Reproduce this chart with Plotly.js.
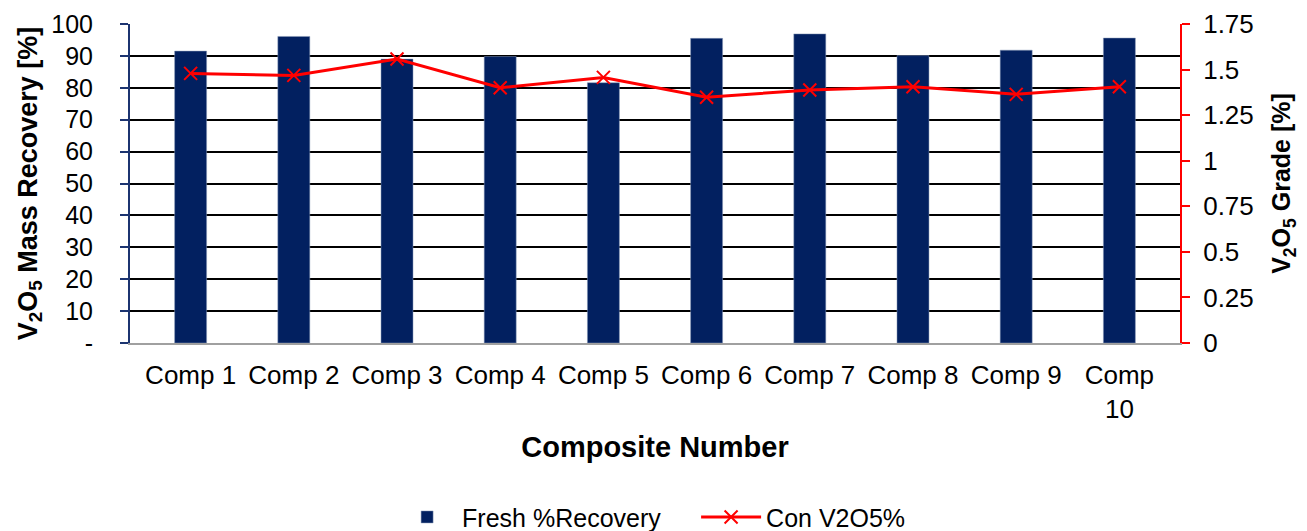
<!DOCTYPE html>
<html>
<head>
<meta charset="utf-8">
<script src="https://cdn.plot.ly/plotly-3.0.1.min.js"></script>
<style>html,body{margin:0;padding:0;background:#fff;}#chart{width:1307px;height:531px;}</style>
</head>
<body>
<div id="chart"></div>
<script>
var categories = ["Comp 1","Comp 2","Comp 3","Comp 4","Comp 5","Comp 6","Comp 7","Comp 8","Comp 9","Comp<br>10"];
var freshRecovery = [91.5, 96.1, 89.0, 89.8, 81.6, 95.5, 96.9, 90.1, 91.8, 95.6];
var conV2O5 = [1.479, 1.468, 1.558, 1.400, 1.457, 1.348, 1.388, 1.406, 1.364, 1.406];
var leftTickVals = [0,10,20,30,40,50,60,70,80,90,100];
var leftTickText = ["-","10","20","30","40","50","60","70","80","90","100"];
var rightTickVals = [0,0.25,0.5,0.75,1,1.25,1.5,1.75];
var rightTickText = ["0","0.25","0.5","0.75","1","1.25","1.5","1.75"];

var font = "Liberation Sans, Arial, sans-serif";
var traces = [
  {type:"bar", x:categories, y:freshRecovery, name:"Fresh %Recovery",
   marker:{color:"#022060", line:{color:"#8a9ab8", width:0.5}}},
  {type:"scatter", mode:"lines+markers", x:categories, y:conV2O5, yaxis:"y2", name:"Con V2O5%",
   line:{color:"#ff0000", width:3}, marker:{symbol:"x-thin", size:13, color:"#ff0000", line:{color:"#ff0000", width:2}}}
];
var layout = {
  width:1307, height:531,
  margin:{l:130, r:127, t:24, b:188},
  paper_bgcolor:"#fff", plot_bgcolor:"#fff",
  bargap:0.69,
  font:{family:font, size:25, color:"#000"},
  showlegend:true,
  legend:{orientation:"h", xref:"container", yref:"container", x:0.3, xanchor:"left", y:0.026, yanchor:"middle",
          font:{size:25}, traceorder:"normal", itemwidth:60, entrywidth:229, entrywidthmode:"pixels"},
  xaxis:{
    type:"category", automargin:false, showline:true, linecolor:"#a0a0a0", linewidth:2,
    showgrid:false, ticks:"", tickfont:{size:26, color:"#000"}, ticklabelstandoff:8,
    title:{text:"<b>Composite Number</b>", font:{size:29}, standoff:14}
  },
  yaxis:{
    automargin:false, range:[0,100], tickvals:leftTickVals, ticktext:leftTickText,
    showline:true, linecolor:"#1c3470", linewidth:2, ticks:"outside", ticklen:8, tickcolor:"#1c3470", tickwidth:2,
    showgrid:true, gridcolor:"#000", gridwidth:2, zeroline:false,
    tickfont:{size:25, color:"#000"}, ticklabelstandoff:22,
    title:{text:"<b>V<sub>2</sub>O<sub>5</sub> Mass Recovery [%]</b>", font:{size:27}, standoff:6}
  },
  yaxis2:{
    automargin:false, overlaying:"y", side:"right", range:[0,1.75], tickvals:rightTickVals, ticktext:rightTickText,
    showline:true, linecolor:"#ff0000", linewidth:2, ticks:"outside", ticklen:8, tickcolor:"#ff0000", tickwidth:2,
    showgrid:false, zeroline:false,
    tickfont:{size:26, color:"#000"}, ticklabelstandoff:8,
    title:{text:"<b>V<sub>2</sub>O<sub>5</sub> Grade [%]</b>", font:{size:25}, standoff:20}
  }
};
Plotly.newPlot("chart", traces, layout, {displayModeBar:false, staticPlot:true});
</script>
</body>
</html>
